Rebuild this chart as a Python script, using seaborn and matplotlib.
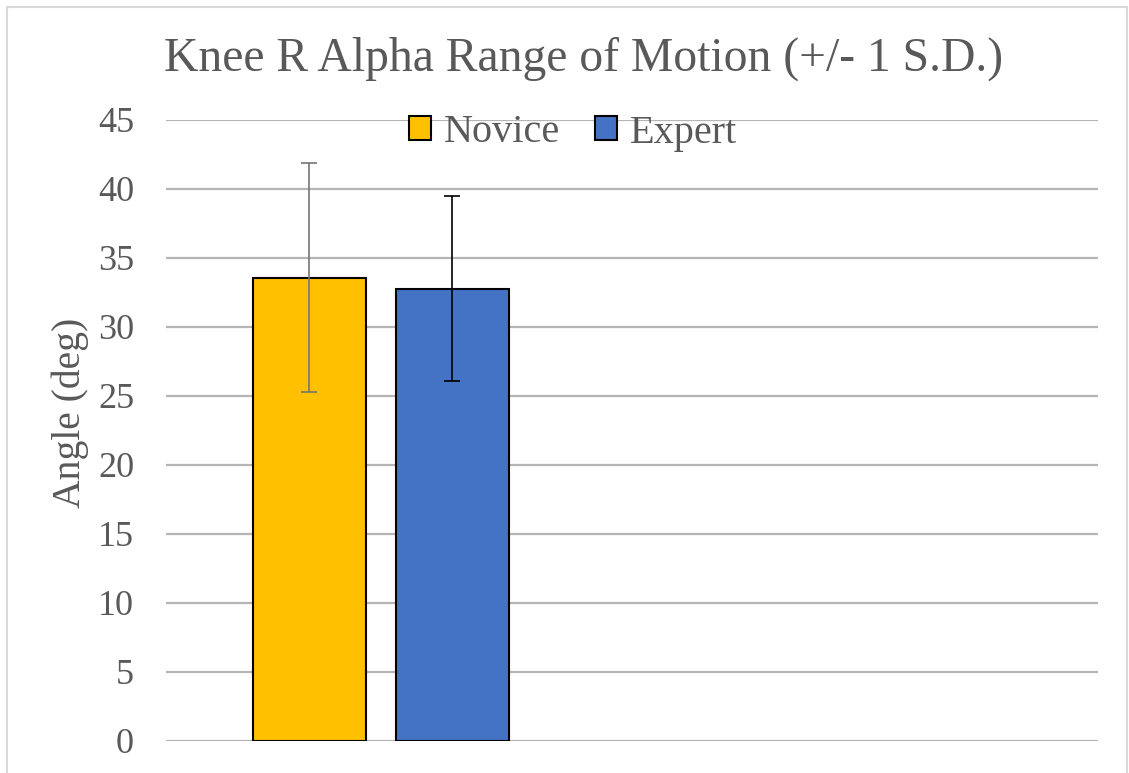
import matplotlib
matplotlib.use("Agg")
import matplotlib.pyplot as plt
import seaborn as sns
import pandas as pd
from matplotlib.lines import Line2D

groups = ["Novice", "Expert"]
means = [33.55, 32.78]
sds = [8.3, 6.7]
colors = ["#FFC000", "#4472C4"]
err_colors = ["#767676", "#000000"]
yticks = [0, 5, 10, 15, 20, 25, 30, 35, 40, 45]
title = "Knee R Alpha Range of Motion (+/- 1 S.D.)"
ylabel = "Angle (deg)"

df = pd.DataFrame({"cat": ["Knee R Alpha"] * 2, "group": groups, "mean": means})

sns.set_theme(style="white")
plt.rcParams["font.family"] = ["Liberation Serif", "DejaVu Serif"]

W, H = 1129, 773
fig = plt.figure(figsize=(W / 100, H / 100), dpi=100)
ax = fig.add_axes([166 / W, 1 - 740.5 / H, (1098 - 166) / W, (740.5 - 120) / H])

sns.barplot(data=df, x="cat", y="mean", hue="group", palette=colors,
            gap=0.21, edgecolor="black", linewidth=1.5, ax=ax, legend=False,
            errorbar=None, saturation=1, zorder=3)

bars = [p for p in ax.patches]
for p, m, s, ec in zip(bars, means, sds, err_colors):
    cx = p.get_x() + p.get_width() / 2
    ax.errorbar([cx], [m], yerr=[s], fmt="none", ecolor=ec, elinewidth=1.2,
                capsize=6, capthick=1.2, zorder=4)

ax.set_ylim(0, 45)
ax.set_xlim(-0.601, 2.006)
ax.set_yticks(yticks)
ax.set_yticklabels([str(t) for t in yticks], fontsize=26, color="#595959")
ax.set_xticks([])
ax.set_xlabel("")
ax.set_ylabel("")
ax.tick_params(axis="y", length=0, pad=23)
for sp in ax.spines.values():
    sp.set_visible(False)
ax.yaxis.grid(True, color="#b5b5b5", linewidth=1.6, zorder=0)
ax.set_axisbelow(True)

handles = [plt.Rectangle((0, 0), 1, 1, facecolor=c, edgecolor="black", linewidth=1.5)
           for c in colors]
fig.legend(handles, groups, loc="center", bbox_to_anchor=(573 / W, 1 - 133 / H),
           ncol=2, frameon=False, fontsize=29, handlelength=0.55, handleheight=0.55,
           handletextpad=0.32, columnspacing=0.85, labelcolor="#595959")

fig.text(584 / W, 1 - 71 / H, title, ha="center", va="baseline", fontsize=34.3,
         color="#595959")
fig.text(70 / W, 1 - 413 / H, ylabel, ha="center", va="center", rotation=90,
         fontsize=28.5, color="#595959")

bc = "#d9d9d9"
fig.add_artist(Line2D([7 / W, 7 / W], [0, 1 - 7 / H], color=bc, lw=1.5))
fig.add_artist(Line2D([7 / W, 1127 / W], [1 - 7 / H, 1 - 7 / H], color=bc, lw=1.5))
fig.add_artist(Line2D([1127 / W, 1127 / W], [0, 1 - 7 / H], color=bc, lw=1.5))

fig.savefig("out.png", dpi=100, facecolor="white")
